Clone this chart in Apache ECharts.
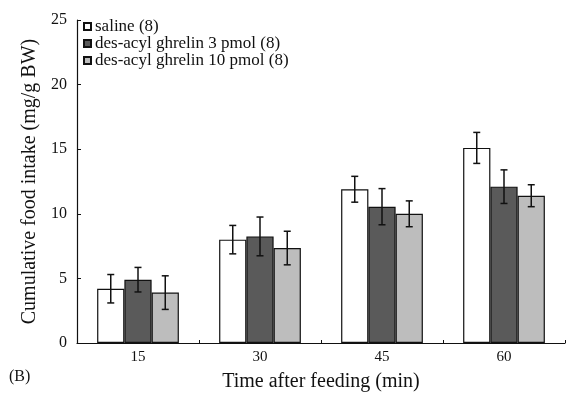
<!DOCTYPE html>
<html>
<head>
<meta charset="utf-8">
<script src="https://cdn.jsdelivr.net/npm/echarts@6/dist/echarts.min.js"></script>
<style>html,body{margin:0;padding:0;background:#fff}#c{width:569px;height:399px}</style>
</head>
<body>
<div id="c"></div>
<script>
var categories = ['15', '30', '45', '60'];
var seriesNames = ['saline (8)', 'des-acyl ghrelin 3 pmol (8)', 'des-acyl ghrelin 10 pmol (8)'];
var saline = [4.2, 8.0, 11.9, 15.1];
var des3 = [4.9, 8.25, 10.55, 12.1];
var des10 = [3.9, 7.35, 10.0, 11.4];
var salineErr = [1.1, 1.1, 1.0, 1.2];
var des3Err = [0.95, 1.5, 1.4, 1.3];
var des10Err = [1.3, 1.3, 1.0, 0.85];
var yTicks = [0, 5, 10, 15, 20, 25];

var FONT = '"Liberation Serif", "DejaVu Serif", serif';
var values = [saline, des3, des10];
var errs = [salineErr, des3Err, des10Err];
var colors = ['#ffffff', '#5a5a5a', '#bdbdbd'];
var GAP = 0.33;

var chart = echarts.init(document.getElementById('c'));
var series = [];
values.forEach(function (vals, k) {
  series.push({
    name: seriesNames[k],
    type: 'bar',
    data: vals,
    barGap: '0%',
    barCategoryGap: (GAP * 100) + '%',
    itemStyle: { color: colors[k], borderColor: '#111', borderWidth: 1.2 },
    emphasis: { disabled: true },
    z: 2
  });
});
values.forEach(function (vals, k) {
  series.push({
    type: 'custom',
    name: 'err' + k,
    data: vals.map(function (v, i) { return [i, v - errs[k][i], v + errs[k][i]]; }),
    z: 5,
    renderItem: function (params, api) {
      var i = api.value(0);
      var lo = api.coord([i, api.value(1)]);
      var hi = api.coord([i, api.value(2)]);
      var band = api.size([1, 0])[0];
      var bw = band * (1 - GAP) / 3;
      var x = lo[0] + (k - 1) * bw;
      var cap = 3.5;
      var st = { stroke: '#111', lineWidth: 1.5 };
      return {
        type: 'group',
        children: [
          { type: 'line', shape: { x1: x, y1: lo[1], x2: x, y2: hi[1] }, style: st },
          { type: 'line', shape: { x1: x - cap, y1: lo[1], x2: x + cap, y2: lo[1] }, style: st },
          { type: 'line', shape: { x1: x - cap, y1: hi[1], x2: x + cap, y2: hi[1] }, style: st }
        ]
      };
    }
  });
});

chart.setOption({
  animation: false,
  backgroundColor: '#fff',
  grid: { left: 77, right: 4, top: 20, bottom: 56 },
  legend: {
    data: seriesNames,
    orient: 'vertical',
    left: 78,
    top: 13,
    icon: 'rect',
    itemWidth: 7,
    itemHeight: 7,
    itemGap: 0,
    textStyle: { fontFamily: FONT, fontSize: 17, lineHeight: 14, color: '#111', padding: [0, 0, 0, -1] }
  },
  xAxis: {
    type: 'category',
    data: categories,
    name: 'Time after feeding (min)',
    nameLocation: 'middle',
    nameGap: 29,
    nameTextStyle: { fontFamily: FONT, fontSize: 20, color: '#111' },
    axisLine: { lineStyle: { color: '#111', width: 1.2 } },
    axisTick: { show: true, inside: true, length: 3, lineStyle: { color: '#111' } },
    axisLabel: { fontFamily: FONT, fontSize: 15, color: '#111', margin: 7 }
  },
  yAxis: {
    type: 'value',
    min: 0,
    max: 25,
    interval: 5,
    name: 'Cumulative food intake (mg/g BW)',
    nameLocation: 'middle',
    nameGap: 33,
    nameTextStyle: { fontFamily: FONT, fontSize: 20, color: '#111' },
    axisLine: { show: true, lineStyle: { color: '#111', width: 1.2 } },
    axisTick: { show: true, inside: true, length: 4, lineStyle: { color: '#111' } },
    splitLine: { show: false },
    axisLabel: {
      fontFamily: FONT, fontSize: 16, color: '#111', margin: 10,
      formatter: function (v) { return yTicks.indexOf(v) >= 0 ? String(v) : ''; }
    }
  },
  graphic: [{
    type: 'text', left: 9, top: 369,
    style: { text: '(B)', font: '16px ' + FONT, fill: '#111' }
  }],
  series: series
});
</script>
</body>
</html>
